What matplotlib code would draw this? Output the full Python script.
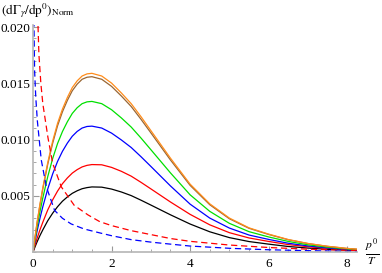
import numpy as np
import matplotlib
matplotlib.use("Agg")
import matplotlib.pyplot as plt
from matplotlib.ticker import MultipleLocator, FixedLocator

plt.rcParams['font.family'] = ['Liberation Serif', 'DejaVu Serif']
plt.rcParams['mathtext.fontset'] = 'stix'

# p0/T grid for the solid curves
p_solid = [0, 0.05, 0.1, 0.175, 0.25, 0.375, 0.5, 0.625, 0.75, 0.875, 1.0, 1.125,
           1.25, 1.375, 1.5, 1.75, 2.0, 2.25, 2.5, 2.75, 3.0, 3.5, 4.0, 4.5,
           5.0, 5.5, 6.0, 6.5, 7.0, 7.5, 8.0, 8.25]

# values in units of 1e-3
orange = [0, 1.27, 2.54, 4.21, 5.72, 7.95, 9.86, 11.45, 12.72, 13.75, 14.63, 15.23,
          15.66, 15.85, 15.9, 15.66, 15.03, 14.15, 13.20, 12.04, 10.81, 8.35, 6.04, 4.29,
          3.02, 2.15, 1.59, 1.11, 0.76, 0.51, 0.32, 0.25]
brown = [0, 1.25, 2.50, 4.13, 5.62, 7.80, 9.67, 11.23, 12.48, 13.49, 14.35, 14.94,
         15.37, 15.55, 15.6, 15.37, 14.74, 13.88, 12.95, 11.81, 10.61, 8.19, 5.93, 4.21,
         2.96, 2.11, 1.56, 1.09, 0.75, 0.50, 0.31, 0.25]
green = [0, 1.07, 2.14, 3.55, 4.82, 6.70, 8.31, 9.65, 10.72, 11.59, 12.33, 12.84,
         13.20, 13.36, 13.4, 13.20, 12.66, 11.93, 11.12, 10.14, 9.11, 7.04, 5.09, 3.62,
         2.55, 1.81, 1.34, 0.94, 0.64, 0.43, 0.27, 0.21]
blue = [0, 0.90, 1.79, 2.97, 4.03, 5.60, 6.94, 8.06, 8.96, 9.69, 10.30, 10.73,
        11.03, 11.17, 11.2, 11.03, 10.58, 9.97, 9.30, 8.48, 7.62, 5.88, 4.26, 3.02,
        2.13, 1.51, 1.12, 0.78, 0.54, 0.36, 0.22, 0.18]
red = [0, 0.59, 1.17, 1.95, 2.65, 3.74, 4.64, 5.42, 6.08, 6.59, 7.02, 7.33,
       7.57, 7.71, 7.78, 7.76, 7.53, 7.18, 6.75, 6.20, 5.62, 4.45, 3.35, 2.42,
       1.72, 1.25, 0.94, 0.66, 0.47, 0.33, 0.23, 0.20]
black = [0, 0.44, 0.87, 1.45, 1.97, 2.78, 3.45, 4.03, 4.52, 4.90, 5.22, 5.45,
         5.63, 5.73, 5.79, 5.77, 5.60, 5.34, 5.02, 4.61, 4.18, 3.31, 2.49, 1.80,
         1.28, 0.93, 0.70, 0.49, 0.35, 0.24, 0.17, 0.15]

# dashed curves
p_red_dash = [0.12, 0.15, 0.2, 0.25, 0.38, 0.5, 0.72, 1.05, 1.4, 1.7, 2.0, 2.5,
              3.0, 3.5, 4.0, 5.0, 6.0, 7.0, 8.0, 8.25]
red_dash = [21.0, 17.6, 15.0, 13.2, 10.2, 7.9, 5.8, 4.15, 3.3, 2.7, 2.35, 1.9,
            1.55, 1.2, 0.95, 0.62, 0.4, 0.25, 0.15, 0.13]
p_blue_dash = [0.02, 0.04, 0.07, 0.11, 0.21, 0.34, 0.55, 0.75, 0.97, 1.3, 1.7, 2.0,
               2.5, 3.0, 3.5, 4.0, 5.0, 6.0, 7.0, 8.0, 8.25]
blue_dash = [21.5, 16.2, 13.8, 11.7, 8.2, 5.8, 3.7, 3.0, 2.5, 2.05, 1.7, 1.45,
             1.1, 0.88, 0.7, 0.53, 0.33, 0.2, 0.12, 0.06, 0.05]

W, H = 382, 273
fig = plt.figure(figsize=(W / 100, H / 100), dpi=100)
ax = fig.add_axes([33 / W, 21 / H, (357 - 33) / W, 227 / H])

lw = 0.9
ax.plot(p_solid, np.array(black) * 1e-3, color='black', lw=lw)
ax.plot(p_solid, np.array(red) * 1e-3, color='#ff0000', lw=lw)
ax.plot(p_solid, np.array(blue) * 1e-3, color='#0000ff', lw=lw)
ax.plot(p_solid, np.array(green) * 1e-3, color='#00e000', lw=lw)
ax.plot(p_solid, np.array(brown) * 1e-3, color='#996633', lw=lw)
ax.plot(p_solid, np.array(orange) * 1e-3, color='#ff8c1a', lw=lw)
ax.plot(p_red_dash, np.array(red_dash) * 1e-3, color='#ff0000', lw=lw, ls=(0, (5, 3)))
ax.plot(p_blue_dash, np.array(blue_dash) * 1e-3, color='#0000ff', lw=lw, ls=(0, (5, 3)))

ax.set_xlim(0, 8.25)
ax.set_ylim(0, 0.0202)

for s in ['top', 'right']:
    ax.spines[s].set_visible(False)
for s in ['left', 'bottom']:
    ax.spines[s].set_color('#b5b5b5')
    ax.spines[s].set_linewidth(1.2)

ax.xaxis.set_major_locator(FixedLocator([0, 2, 4, 6, 8]))
ax.xaxis.set_minor_locator(MultipleLocator(0.5))
ax.yaxis.set_major_locator(FixedLocator([0.005, 0.010, 0.015, 0.020]))
ax.yaxis.set_minor_locator(MultipleLocator(0.001))
ax.set_yticklabels(['0.005', '0.010', '0.015', '0.020'])
ax.tick_params(which='both', direction='in', color='#999999', labelsize=9.5)
ax.tick_params(which='major', length=4, width=0.8)
ax.tick_params(which='minor', length=2.2, width=0.6)
ax.tick_params(axis='y', pad=2)
ax.tick_params(axis='x', pad=4)

fig.text(1 / W, 1 - 14 / H, r'$(\mathrm{d}\Gamma_\gamma/\mathrm{dp}^0)_{\mathrm{Norm}}$',
         fontsize=9.5, ha='left', va='baseline')
fig.text(372 / W, 1 - 252 / H, r'$\frac{p^0}{T}$', fontsize=12, ha='center', va='center')

fig.savefig('out.png', dpi=100)
